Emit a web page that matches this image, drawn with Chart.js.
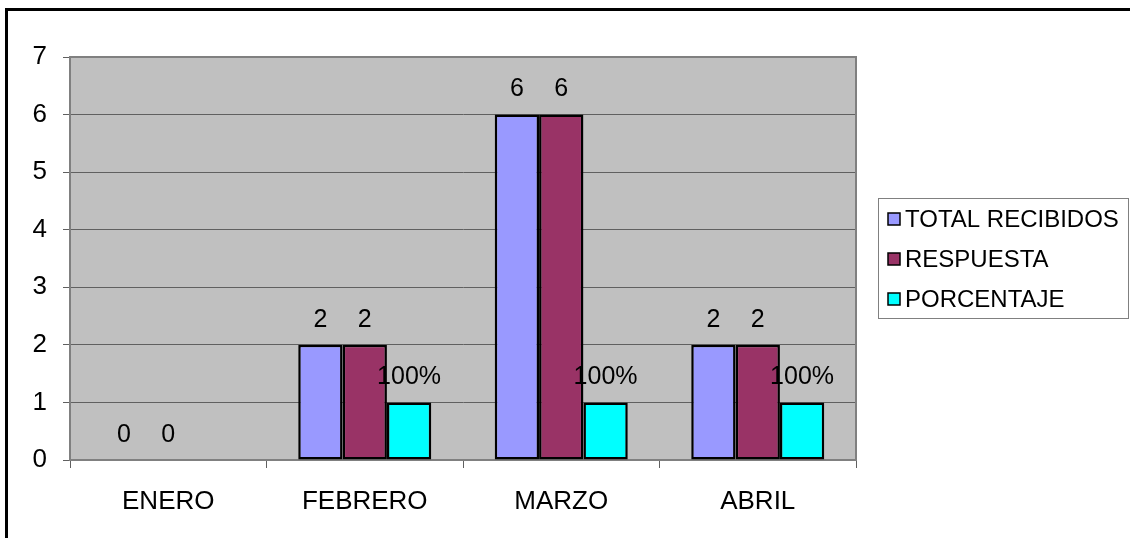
<!DOCTYPE html>
<html>
<head>
<meta charset="utf-8">
<script src="https://cdn.jsdelivr.net/npm/chart.js@4.4.0/dist/chart.umd.min.js"></script>
<style>
  html, body { margin: 0; padding: 0; background: #fff; overflow: hidden; }
  #chartContainer { position: relative; width: 1130px; height: 538px; }
</style>
</head>
<body>
<div id="chartContainer">
  <canvas id="myChart" width="1130" height="538"></canvas>
</div>
<script>
// datos
const meses = ['ENERO', 'FEBRERO', 'MARZO', 'ABRIL'];
const totalRecibidos = [0, 2, 6, 2];
const respuesta = [0, 2, 6, 2];
const porcentaje = [null, 1, 1, 1]; // 1 = 100%
const yMin = 0;
const yMax = 7;
const yStep = 1;

const FONT = "'Liberation Sans', Arial, sans-serif";

// fondo gris del area de trazado + borde
const plotArea = {
  id: 'plotArea',
  beforeDraw(chart) {
    const { ctx, chartArea: a } = chart;
    ctx.save();
    ctx.fillStyle = '#C0C0C0';
    ctx.fillRect(a.left, a.top, a.right - a.left, a.bottom - a.top);
    ctx.restore();
  },
  beforeDatasetsDraw(chart) {
    const { ctx, chartArea: a } = chart;
    ctx.save();
    ctx.strokeStyle = '#808080';
    ctx.lineWidth = 2;
    ctx.strokeRect(a.left, a.top, a.right - a.left, a.bottom - a.top);
    ctx.restore();
  }
};

// etiquetas de valor encima de las barras
const valueLabels = {
  id: 'valueLabels',
  afterDatasetsDraw(chart) {
    const ctx = chart.ctx;
    ctx.save();
    ctx.font = '25px ' + FONT;
    ctx.fillStyle = '#000';
    ctx.textAlign = 'center';
    ctx.textBaseline = 'middle';
    chart.data.datasets.forEach((ds, i) => {
      const meta = chart.getDatasetMeta(i);
      meta.data.forEach((bar, j) => {
        const v = ds.data[j];
        if (v === null || v === undefined) return;
        const txt = ds.isPercent ? Math.round(v * 100) + '%' : String(v);
        ctx.fillText(txt, bar.x, bar.y - 25);
      });
    });
    ctx.restore();
  }
};

// leyenda estilo excel + marco exterior
const boxLegend = {
  id: 'boxLegend',
  afterDraw(chart) {
    const ctx = chart.ctx;
    ctx.save();
    ctx.strokeStyle = '#808080';
    ctx.lineWidth = 1;
    ctx.strokeRect(878.5, 198.5, 250, 120);
    ctx.font = '24px ' + FONT;
    ctx.textBaseline = 'middle';
    ctx.textAlign = 'left';
    chart.data.datasets.forEach((ds, i) => {
      const cy = 219 + i * 40;
      ctx.fillStyle = ds.backgroundColor;
      ctx.fillRect(888, cy - 6, 12, 12);
      ctx.strokeStyle = '#000';
      ctx.lineWidth = 1.5;
      ctx.strokeRect(888, cy - 6, 12, 12);
      ctx.fillStyle = '#000';
      ctx.fillText(ds.label, 905, cy + 1);
    });
    // marco del grafico
    ctx.strokeStyle = '#000';
    ctx.lineWidth = 3;
    ctx.strokeRect(6.5, 9.5, 1200, 600);
    ctx.restore();
  }
};

const barBorder = (c) => (c.raw ? 2.5 : 0);

new Chart(document.getElementById('myChart').getContext('2d'), {
  type: 'bar',
  data: {
    labels: meses,
    datasets: [
      {
        label: 'TOTAL RECIBIDOS',
        data: totalRecibidos,
        backgroundColor: '#9999FF',
        borderColor: '#000',
        borderWidth: barBorder,
        borderSkipped: false
      },
      {
        label: 'RESPUESTA',
        data: respuesta,
        backgroundColor: '#993366',
        borderColor: '#000',
        borderWidth: barBorder,
        borderSkipped: false
      },
      {
        label: 'PORCENTAJE',
        data: porcentaje,
        isPercent: true,
        backgroundColor: '#00FFFF',
        borderColor: '#000',
        borderWidth: barBorder,
        borderSkipped: false
      }
    ]
  },
  options: {
    responsive: false,
    animation: false,
    categoryPercentage: 0.677,
    barPercentage: 1,
    layout: { padding: { top: 57, right: 274, left: 0, bottom: 0 } },
    plugins: {
      legend: { display: false },
      tooltip: { enabled: false },
      title: { display: false }
    },
    scales: {
      x: {
        afterFit(scale) { scale.height = 78; },
        grid: {
          offset: true,
          drawOnChartArea: false,
          color: '#606060',
          tickLength: 8
        },
        border: { display: true, color: '#606060', width: 2 },
        ticks: {
          color: '#000',
          padding: 18,
          font: { family: FONT, size: 26 }
        }
      },
      y: {
        min: yMin,
        max: yMax,
        afterFit(scale) { scale.width = 70; },
        grid: {
          color: '#606060',
          lineWidth: 1,
          tickLength: 7
        },
        border: { display: true, color: '#606060', width: 2 },
        ticks: {
          stepSize: yStep,
          color: '#000',
          padding: 16,
          font: { family: FONT, size: 26 }
        }
      }
    }
  },
  plugins: [plotArea, valueLabels, boxLegend]
});
</script>
</body>
</html>
